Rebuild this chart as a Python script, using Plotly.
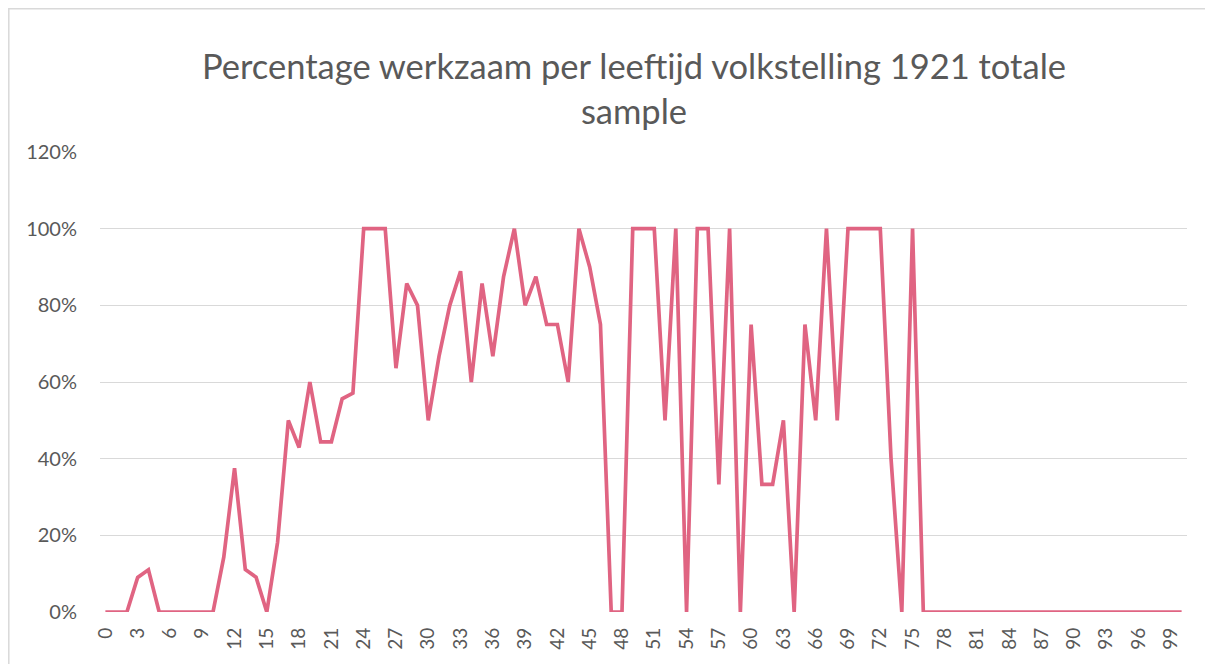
import plotly.graph_objects as go

ages = list(range(0, 101))
pct_werkzaam = [
    0, 0, 0, 0.09, 0.11, 0, 0, 0, 0, 0,            # 0-9
    0, 0.143, 0.375, 0.111, 0.091, 0, 0.182, 0.50, 0.429, 0.60,  # 10-19
    0.444, 0.444, 0.556, 0.571, 1.0, 1.0, 1.0, 0.636, 0.857, 0.80,  # 20-29
    0.50, 0.667, 0.80, 0.889, 0.60, 0.857, 0.667, 0.875, 1.0, 0.80,  # 30-39
    0.875, 0.75, 0.75, 0.60, 1.0, 0.90, 0.75, 0, 0, 1.0,  # 40-49
    1.0, 1.0, 0.50, 1.0, 0, 1.0, 1.0, 0.333, 1.0, 0,  # 50-59
    0.75, 0.333, 0.333, 0.50, 0, 0.75, 0.50, 1.0, 0.50, 1.0,  # 60-69
    1.0, 1.0, 1.0, 0.40, 0, 1.0, 0, 0, 0, 0,  # 70-79
    0, 0, 0, 0, 0, 0, 0, 0, 0, 0,  # 80-89
    0, 0, 0, 0, 0, 0, 0, 0, 0, 0,  # 90-99
    0,  # 100
]
x_tick_vals = list(range(0, 100, 3))
x_tick_text = [str(v) for v in x_tick_vals]
y_tick_vals = [0, 0.2, 0.4, 0.6, 0.8, 1.0, 1.2]
y_tick_text = ["0%", "20%", "40%", "60%", "80%", "100%", "120%"]
title_text = "Percentage werkzaam per leeftijd volkstelling 1921 totale<br>sample"

OFF = 8  # page body margin
W, H = 1213 - OFF, 664 - OFF
# target pixel positions in page coordinates
pl, pr, pt, pb = 100, 1187, 152, 612
L, R, T, B = pl - OFF, W - (pr - OFF), pt - OFF, H - (pb - OFF)
pw, ph = W - L - R, H - T - B

def px_x(p):
    return (p - OFF - L) / pw

def px_y(p):
    return (H - B - (p - OFF)) / ph

fig = go.Figure()
fig.add_trace(go.Scatter(
    x=ages, y=pct_werkzaam, mode="lines",
    line=dict(color="#E06482", width=3.7),
    hoverinfo="x+y",
))

fig.update_layout(
    width=W, height=H,
    margin=dict(l=L, r=R, t=T, b=B),
    paper_bgcolor="white", plot_bgcolor="white",
    showlegend=False,
    font=dict(family="Lato, 'Open Sans', sans-serif", color="#595959"),
    title=dict(
        text=title_text, xref="container", x=(634 - OFF) / W, xanchor="center",
        yref="container", y=1 - (79 - OFF) / H, yanchor="middle",
        font=dict(size=34.5, color="#595959", family="Lato, 'Open Sans', sans-serif"),
    ),
    xaxis=dict(
        range=[-0.5, 100.5], tickmode="array", tickvals=x_tick_vals, ticktext=x_tick_text,
        tickangle=-90, showgrid=False, zeroline=False, showline=False, ticks="",
        tickfont=dict(size=19, color="#595959"), ticklabelstandoff=11,
    ),
    yaxis=dict(
        range=[0, 1.2], tickmode="array", tickvals=y_tick_vals, ticktext=y_tick_text,
        showgrid=True, gridcolor="#D9D9D9", gridwidth=1.3, zeroline=False, showline=False,
        ticks="", tickfont=dict(size=20, color="#595959"), ticklabelstandoff=22,
    ),
    shapes=[dict(
        type="rect", xref="paper", yref="paper",
        x0=px_x(8.8), x1=px_x(1225), y0=px_y(680), y1=px_y(8.8),
        line=dict(color="#D9D9D9", width=1.5), fillcolor="rgba(0,0,0,0)", layer="below",
    )],
)

fig.write_html("out.html")
